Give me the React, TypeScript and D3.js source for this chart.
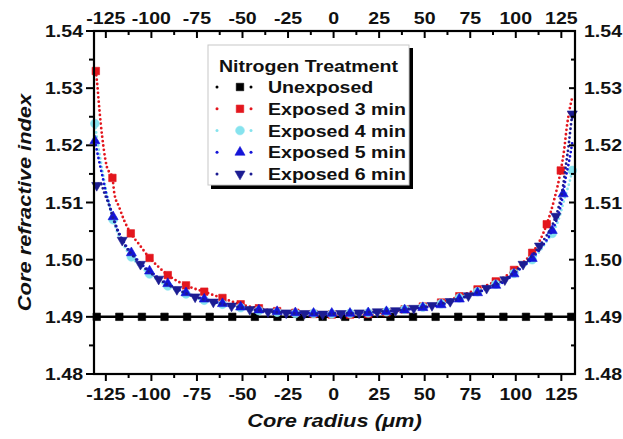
import React from 'react';
import * as d3 from 'd3';

// ---------- data ----------
const xTicks = [-125, -100, -75, -50, -25, 0, 25, 50, 75, 100, 125];
const xMinor = [-112.5, -87.5, -62.5, -37.5, -12.5, 12.5, 37.5, 62.5, 87.5, 112.5];
const yTicks = [1.48, 1.49, 1.5, 1.51, 1.52, 1.53, 1.54];
const yMinor = [1.485, 1.495, 1.505, 1.515, 1.525, 1.535];

const legendTitle = 'Nitrogen Treatment';
const seriesNames = ['Unexposed', 'Exposed 3 min', 'Exposed 4 min', 'Exposed 5 min', 'Exposed 6 min'];

// Unexposed
const rUnexp = [-130, -117.6, -105.2, -92.8, -80.4, -68, -55.6, -43.2, -30.8, -18.4, -6, 6.4, 18.8, 31.2, 43.6, 56, 68.4, 80.8, 93.2, 105.6, 118, 130.4];
const nUnexp = [1.49, 1.49, 1.49, 1.49, 1.49, 1.49, 1.49, 1.49, 1.49, 1.49, 1.49, 1.49, 1.49, 1.49, 1.49, 1.49, 1.49, 1.49, 1.49, 1.49, 1.49, 1.49];

// Exposed 3 min
const r3 = [-130.5, -129.6, -129.0, -128.4, -127.8, -127.0, -126.0, -124.5, -121.4, -120.3, -117.7, -115.0, -111.3, -106.8, -101, -96, -91, -86, -81, -76, -71, -66, -61, -56, -51, -46, -41, -36, -31, -26, -21, -16, -11, -6, -1, 4, 9, 14, 19, 24, 29, 34, 39, 44, 49, 54, 59, 64, 69, 74, 79, 84, 89, 94, 99, 104, 109, 113, 117, 121, 124.7, 126.5, 128, 129.5, 131];
const n3 = [1.5330, 1.5303, 1.5280, 1.5258, 1.5238, 1.5215, 1.5190, 1.5163, 1.5143, 1.5115, 1.5092, 1.5069, 1.5046, 1.5027, 1.5003, 1.4987, 1.4973, 1.4963, 1.4955, 1.4949, 1.4944, 1.4938, 1.4933, 1.4927, 1.4922, 1.4918, 1.4915, 1.4912, 1.4910, 1.4908, 1.4907, 1.4906, 1.4905, 1.4905, 1.4904, 1.4904, 1.4904, 1.4905, 1.4905, 1.4906, 1.4908, 1.4910, 1.4913, 1.4915, 1.4918, 1.4921, 1.4925, 1.4930, 1.4936, 1.4942, 1.4948, 1.4955, 1.4962, 1.4970, 1.4982, 1.4995, 1.5012, 1.5032, 1.5062, 1.5104, 1.5156, 1.5191, 1.5232, 1.5262, 1.5284];
const mk3 = [-130.5, -121.4, -111.3, -101, -91, -81, -71, -61, -51, -41, -31, -21, -11, -1, 9, 19, 29, 39, 49, 59, 69, 79, 89, 99, 109, 117, 124.7];

// shared radius grid for 4, 5, 6 min
const rB = [-131, -130, -129, -128, -127, -126, -125, -123, -121, -118.5, -116, -113.5, -111, -106, -101, -96, -91, -86, -81, -76, -71, -66, -61, -56, -51, -46, -41, -36, -31, -26, -21, -16, -11, -6, -1, 4, 9, 14, 19, 24, 29, 34, 39, 44, 49, 54, 59, 64, 69, 74, 79, 84, 89, 94, 99, 104, 109, 113, 116.5, 120, 122, 124, 126, 127.5, 129, 130, 131];

// Exposed 4 min
const n4 = [1.5238, 1.5215, 1.5195, 1.5176, 1.5158, 1.5140, 1.5123, 1.5095, 1.5070, 1.5046, 1.5030, 1.5016, 1.5005, 1.4988, 1.4975, 1.4963, 1.4954, 1.4946, 1.4940, 1.4934, 1.4929, 1.4925, 1.4922, 1.4919, 1.4916, 1.4913, 1.4911, 1.4909, 1.4908, 1.4907, 1.4906, 1.4906, 1.4906, 1.4905, 1.4905, 1.4905, 1.4906, 1.4906, 1.4907, 1.4908, 1.4909, 1.4911, 1.4913, 1.4915, 1.4917, 1.4920, 1.4923, 1.4928, 1.4933, 1.4938, 1.4944, 1.4951, 1.4957, 1.4964, 1.4976, 1.4988, 1.5000, 1.5014, 1.5030, 1.5046, 1.5058, 1.5075, 1.5098, 1.5115, 1.5130, 1.5142, 1.5156];
const mk4 = [-131, -121, -111, -101, -91, -81, -71, -61, -51, -41, -31, -21, -11, -1, 9, 19, 29, 39, 49, 59, 69, 79, 89, 99, 109, 120, 131];

// Exposed 5 min
const n5 = [1.5208, 1.5192, 1.5177, 1.5162, 1.5148, 1.5133, 1.5118, 1.5095, 1.5075, 1.5052, 1.5036, 1.5022, 1.5012, 1.4994, 1.4980, 1.4968, 1.4958, 1.4949, 1.4942, 1.4936, 1.4931, 1.4927, 1.4923, 1.4920, 1.4917, 1.4914, 1.4912, 1.4910, 1.4909, 1.4908, 1.4907, 1.4907, 1.4906, 1.4906, 1.4906, 1.4906, 1.4906, 1.4907, 1.4907, 1.4908, 1.4909, 1.4910, 1.4912, 1.4914, 1.4916, 1.4918, 1.4921, 1.4926, 1.4931, 1.4936, 1.4942, 1.4949, 1.4955, 1.4962, 1.4975, 1.4988, 1.5002, 1.5018, 1.5032, 1.5051, 1.5066, 1.5086, 1.5115, 1.5145, 1.5168, 1.5185, 1.5205];
const mk5 = [-131, -121, -111, -101, -91, -81, -71, -61, -51, -41, -31, -21, -11, -1, 9, 19, 29, 39, 49, 59, 69, 79, 89, 99, 109, 120, 126];

// Exposed 6 min
const n6 = [1.5128, 1.5130, 1.5133, 1.5135, 1.5128, 1.5118, 1.5110, 1.5093, 1.5072, 1.5050, 1.5034, 1.5020, 1.5010, 1.4992, 1.4978, 1.4966, 1.4956, 1.4948, 1.4941, 1.4935, 1.4930, 1.4926, 1.4922, 1.4919, 1.4916, 1.4913, 1.4911, 1.4909, 1.4908, 1.4907, 1.4906, 1.4906, 1.4905, 1.4905, 1.4905, 1.4906, 1.4906, 1.4907, 1.4908, 1.4909, 1.4910, 1.4911, 1.4913, 1.4915, 1.4917, 1.4920, 1.4923, 1.4927, 1.4932, 1.4937, 1.4943, 1.4950, 1.4957, 1.4965, 1.4978, 1.4992, 1.5007, 1.5024, 1.5040, 1.5060, 1.5076, 1.5098, 1.5130, 1.5165, 1.5200, 1.5228, 1.5255];
const mk6 = [-130, -116, -106, -96, -86, -76, -66, -56, -46, -36, -26, -16, -6, 4, 14, 24, 34, 44, 54, 64, 74, 84, 94, 104, 113, 122, 131];

// ---------- layout ----------
const W = 623;
const H = 439;
const L = 94, R = 575, T = 31, B = 374;
const FONT = "'Liberation Sans', Arial, Helvetica, sans-serif";
const SX = 1.15;

const x = d3.scaleLinear().domain([-131.5, 132.5]).range([L, R]);
const y = d3.scaleLinear().domain([1.48, 1.54]).range([B, T]);

type Shape = 'square' | 'circle' | 'up' | 'down';

const symPath = (s: Shape) => {
  if (s === 'square') return d3.symbol().type(d3.symbolSquare).size(56)()!;
  if (s === 'circle') return d3.symbol().type(d3.symbolCircle).size(60)()!;
  return d3.symbol().type(d3.symbolTriangle).size(44)()!;
};

const series = [
  { name: seriesNames[1], r: r3, n: n3, mk: mk3, color: '#e3161d', shape: 'square' as Shape },
  { name: seriesNames[2], r: rB, n: n4, mk: mk4, color: '#86e3ee', shape: 'circle' as Shape },
  { name: seriesNames[3], r: rB, n: n5, mk: mk5, color: '#1414d8', shape: 'up' as Shape },
  { name: seriesNames[4], r: rB, n: n6, mk: mk6, color: '#1c1c92', shape: 'down' as Shape },
];

function Txt(props: { x: number; y: number; anchor?: string; size: number; italic?: boolean; rotate?: number; children: React.ReactNode }) {
  const { x: tx, y: ty, anchor = 'start', size, italic, rotate = 0, children } = props;
  return (
    <text
      transform={`translate(${tx},${ty}) rotate(${rotate}) scale(${SX},1)`}
      textAnchor={anchor}
      fontFamily={FONT}
      fontWeight="bold"
      fontStyle={italic ? 'italic' : 'normal'}
      fontSize={size}
      fill="#111"
    >
      {children}
    </text>
  );
}

function Marker({ cx, cy, shape, color }: { cx: number; cy: number; shape: Shape; color: string }) {
  const rot = shape === 'down' ? 180 : 0;
  return <path d={symPath(shape)} transform={`translate(${cx},${cy}) rotate(${rot})`} fill={color} stroke={color} strokeWidth={0.6} />;
}

export default function App() {
  const line = d3
    .line<[number, number]>()
    .x((d) => x(d[0]))
    .y((d) => y(d[1]))
    .curve(d3.curveMonotoneX);

  const unexpPts = rUnexp.map((r, i) => [r, nUnexp[i]] as [number, number]);

  const legendRows = [
    { name: seriesNames[0], color: '#000', shape: 'square' as Shape },
    ...series.map((s) => ({ name: s.name, color: s.color, shape: s.shape })),
  ];
  const rowBase = [93, 114.8, 136.5, 158.3, 180];

  return (
    <svg width={W} height={H} viewBox={`0 0 ${W} ${H}`} style={{ display: 'block', position: 'absolute', left: 0, top: 0, background: '#fff' }}>
      <rect x={0} y={0} width={W} height={H} fill="#fff" />

      {/* unexposed */}
      <path d={line(unexpPts)!} fill="none" stroke="#000" strokeWidth={2.5} />
      {unexpPts.map((d, i) => (
        <Marker key={'u' + i} cx={x(d[0])} cy={y(d[1])} shape="square" color="#000" />
      ))}

      {series.map((s) => {
        const pts = s.r.map((r, i) => [r, s.n[i]] as [number, number]);
        return (
          <g key={s.name}>
            <path d={line(pts)!} fill="none" stroke={s.color} strokeWidth={2.8} strokeDasharray="0 4.4" strokeLinecap="round" />
            {s.mk.map((m) => {
              const idx = s.r.indexOf(m);
              if (idx < 0) return null;
              return <Marker key={m} cx={x(m)} cy={y(s.n[idx])} shape={s.shape} color={s.color} />;
            })}
          </g>
        );
      })}

      {/* frame */}
      <rect x={L} y={T} width={R - L} height={B - T} fill="none" stroke="#000" strokeWidth={2.2} />

      {/* bottom / top axes */}
      {xTicks.map((t) => (
        <g key={'xb' + t}>
          <line x1={x(t)} x2={x(t)} y1={B} y2={B + 7} stroke="#000" strokeWidth={2} />
          <Txt x={x(t)} y={B + 26} anchor="middle" size={17}>{t}</Txt>
          <line x1={x(t)} x2={x(t)} y1={T} y2={T + 7} stroke="#000" strokeWidth={2} />
          <Txt x={x(t)} y={T - 7} anchor="middle" size={17}>{t}</Txt>
        </g>
      ))}
      {xMinor.map((t) => (
        <g key={'xm' + t}>
          <line x1={x(t)} x2={x(t)} y1={B} y2={B + 4} stroke="#000" strokeWidth={2} />
          <line x1={x(t)} x2={x(t)} y1={T} y2={T + 4} stroke="#000" strokeWidth={2} />
        </g>
      ))}

      {/* left / right axes */}
      {yTicks.map((t) => (
        <g key={'y' + t}>
          <line x1={L - 8} x2={L} y1={y(t)} y2={y(t)} stroke="#000" strokeWidth={2} />
          <Txt x={L - 11} y={y(t) + 6} anchor="end" size={17}>{t.toFixed(2)}</Txt>
          <line x1={R - 6} x2={R} y1={y(t)} y2={y(t)} stroke="#000" strokeWidth={2} />
          <Txt x={R + 9} y={y(t) + 6} anchor="start" size={17}>{t.toFixed(2)}</Txt>
        </g>
      ))}
      {yMinor.map((t) => (
        <g key={'ym' + t}>
          <line x1={L - 5} x2={L} y1={y(t)} y2={y(t)} stroke="#000" strokeWidth={2} />
          <line x1={R - 4} x2={R} y1={y(t)} y2={y(t)} stroke="#000" strokeWidth={2} />
        </g>
      ))}

      {/* axis titles */}
      <Txt x={(L + R) / 2} y={427} anchor="middle" size={19} italic>
        Core radius (μm)
      </Txt>
      <Txt x={31} y={(T + B) / 2} anchor="middle" size={19} italic rotate={-90}>
        Core refractive index
      </Txt>

      {/* legend */}
      <g>
        <rect x={211} y={48} width={202} height={141} fill="#000" />
        <rect x={208} y={45} width={201} height={140} fill="#fff" stroke="#c8c8c8" strokeWidth={1} />
        <Txt x={308.5} y={72} anchor="middle" size={17}>{legendTitle}</Txt>
        {legendRows.map((row, i) => {
          const cy = rowBase[i] - 6;
          return (
            <g key={row.name}>
              <circle cx={217} cy={cy} r={1.5} fill={row.color} />
              <circle cx={251} cy={cy} r={1.5} fill={row.color} />
              <Marker cx={240} cy={cy} shape={row.shape} color={row.color} />
              <Txt x={268} y={rowBase[i]} size={17}>{row.name}</Txt>
            </g>
          );
        })}
      </g>
    </svg>
  );
}
